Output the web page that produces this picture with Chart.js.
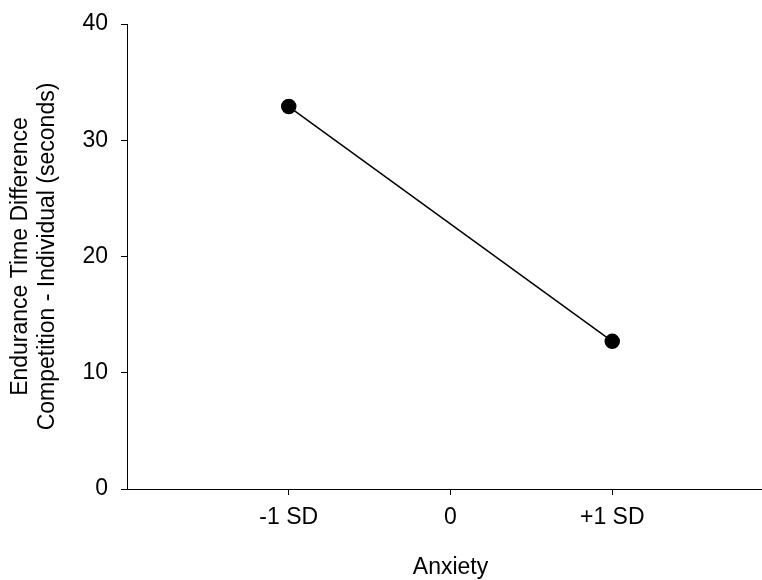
<!doctype html>
<html lang="en">
<head>
  <meta charset="utf-8" />
  <title>Endurance time difference by anxiety</title>
  <script src="https://cdn.jsdelivr.net/npm/chart.js"></script>
  <style>
    html, body { margin: 0; padding: 0; background: #fff; overflow: hidden; }
    canvas { display: block; }
  </style>
</head>
<body>
  <canvas id="anxietyChart" width="762" height="580"></canvas>
  <script>
    // simple slopes: endurance time difference at -1 SD and +1 SD anxiety
    const anxietyLevels = [-1, 1];
    const enduranceDiff = [32.9, 12.7];
    const xTickValues = [-1, 0, 1];
    const xTickLabels = ['-1 SD', '0', '+1 SD'];
    const yTickValues = [0, 10, 20, 30, 40];
    const yTitleLines = ['Endurance Time Difference', 'Competition - Individual (seconds)'];
    const xTitle = 'Anxiety';

    const font = { family: '"Liberation Sans", Arial, sans-serif', size: 23 };
    Chart.defaults.font.family = font.family;
    Chart.defaults.color = '#000';

    // x axis spans -2..2 and runs a little past the right edge of the canvas
    const xOverhang = {
      id: 'xOverhang',
      afterLayout(chart) {
        const x = chart.scales.x;
        x.right += 12;
        x.width = x.right - x.left;
        x.configure();
      },
    };

    new Chart(document.getElementById('anxietyChart'), {
      type: 'line',
      data: {
        datasets: [{
          data: anxietyLevels.map((x, i) => ({ x, y: enduranceDiff[i] })),
          borderColor: '#000',
          backgroundColor: '#000',
          borderWidth: 1.5,
          pointRadius: 7,
          pointHoverRadius: 7,
          tension: 0,
        }],
      },
      plugins: [xOverhang],
      options: {
        responsive: false,
        animation: false,
        layout: { autoPadding: false, padding: { top: 24, left: 0, right: 0, bottom: 0 } },
        plugins: { legend: { display: false }, tooltip: { enabled: false } },
        scales: {
          x: {
            type: 'linear',
            min: -2,
            max: 2,
            afterBuildTicks: (scale) => { scale.ticks = xTickValues.map((value) => ({ value })); },
            afterFit: (scale) => { scale.height = 91; scale.paddingRight = 0; },
            border: { display: true, color: '#000', width: 1 },
            grid: { drawOnChartArea: false, drawTicks: true, tickLength: 6, color: '#000' },
            ticks: {
              font,
              padding: 9,
              maxRotation: 0,
              callback: (value) => xTickLabels[xTickValues.indexOf(value)],
            },
            title: { display: true, text: xTitle, font: { ...font, lineHeight: 1.1 }, padding: { top: 0, bottom: 0 } },
          },
          y: {
            min: 0,
            max: 40,
            afterBuildTicks: (scale) => { scale.ticks = yTickValues.map((value) => ({ value })); },
            afterFit: (scale) => { scale.width = 127; scale.paddingTop = 0; scale.paddingBottom = 0; },
            border: { display: true, color: '#000', width: 1 },
            grid: { drawOnChartArea: false, drawTicks: true, tickLength: 6, color: '#000' },
            ticks: { font, padding: 13 },
            title: { display: true, text: yTitleLines, font: { ...font, lineHeight: 1.174 }, padding: { top: 7, bottom: 0 } },
          },
        },
      },
    });
  </script>
</body>
</html>
